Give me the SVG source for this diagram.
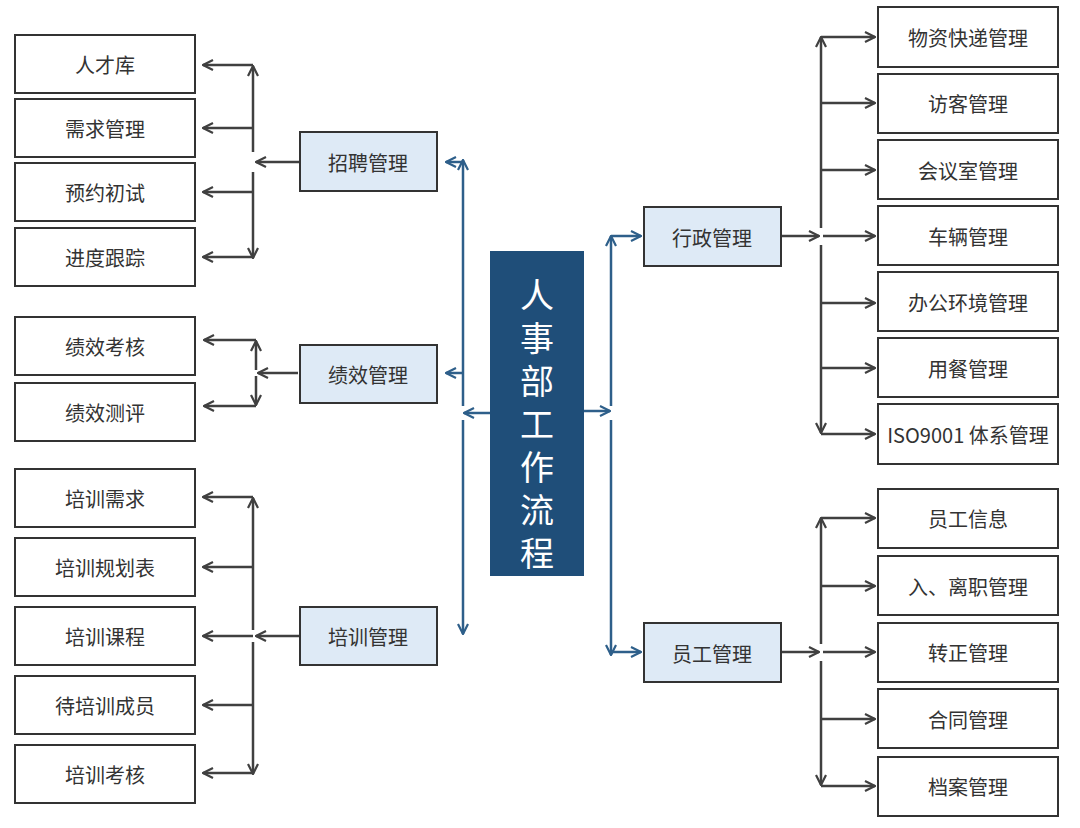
<svg xmlns="http://www.w3.org/2000/svg" width="1080" height="828" viewBox="0 0 1080 828">
<style>
.b{fill:#fff;stroke:#333;stroke-width:2}
.m{fill:#deeaf6;stroke:#333;stroke-width:2}
.t{font-family:"Noto Sans CJK SC","Noto Sans",sans-serif;font-size:20px;fill:#333;text-anchor:middle;dominant-baseline:central}
.g{fill:none;stroke:#404040;stroke-width:2.5}
.ga{fill:none;stroke:#404040;stroke-width:2.5;marker-end:url(#ag)}
.ba{fill:none;stroke:#2e5f8a;stroke-width:2.5;marker-end:url(#ab)}
.c{font-family:"Noto Sans CJK SC",sans-serif;font-size:34px;fill:#fff;text-anchor:middle;dominant-baseline:central}
</style>
<defs>
<marker id="ag" viewBox="0 0 12 12" refX="11" refY="6" markerWidth="12" markerHeight="12" markerUnits="userSpaceOnUse" orient="auto"><path d="M1,1 L11,6 L1,11" fill="none" stroke="#404040" stroke-width="2.2"/></marker>
<marker id="ab" viewBox="0 0 12 12" refX="11" refY="6" markerWidth="12" markerHeight="12" markerUnits="userSpaceOnUse" orient="auto"><path d="M1,1 L11,6 L1,11" fill="none" stroke="#2e5f8a" stroke-width="2.2"/></marker>
</defs>
<rect width="1080" height="828" fill="#fff"/>
<g id="connectors">
<!-- recruiting -->
<path class="ga" d="M253,152 V66"/><path class="ga" d="M253,172 V258"/>
<path class="ga" d="M253,65 H203"/><path class="ga" d="M253,128 H203"/><path class="ga" d="M253,192 H203"/><path class="ga" d="M253,257 H203"/>
<path class="ga" d="M300,162 H256"/>
<!-- performance -->
<path class="ga" d="M256,370 V341"/><path class="ga" d="M256,376 V405"/>
<path class="ga" d="M256,340 H204"/><path class="ga" d="M256,406 H204"/>
<path class="ga" d="M298,373 H258"/>
<!-- training -->
<path class="ga" d="M253,630 V498"/><path class="ga" d="M253,642 V774"/>
<path class="ga" d="M253,497 H203"/><path class="ga" d="M253,567 H203"/><path class="ga" d="M253,636 H203"/><path class="ga" d="M253,705 H203"/><path class="ga" d="M253,773 H203"/>
<path class="ga" d="M300,636 H256"/>
<!-- center left -->
<path class="ba" d="M463,406 V160"/><path class="ba" d="M463,420 V634"/>
<path class="ba" d="M490,413 H464"/>
<path class="ba" d="M463,162 H446"/><path class="ba" d="M463,373 H446"/>
<!-- center right -->
<path class="ba" d="M584,411 H610"/>
<path class="ba" d="M611,406 V236"/><path class="ba" d="M611,420 V655"/>
<path class="ba" d="M611,236 H641"/><path class="ba" d="M611,652 H641"/>
<!-- admin -->
<path class="ga" d="M781,236 H819"/>
<path class="ga" d="M821,228 V37"/><path class="ga" d="M821,245 V433"/>
<path class="ga" d="M821,37 H875"/><path class="ga" d="M821,103 H875"/><path class="ga" d="M821,170 H875"/><path class="ga" d="M823,236 H875"/><path class="ga" d="M821,303 H875"/><path class="ga" d="M821,368 H875"/><path class="ga" d="M821,434 H875"/>
<!-- staff -->
<path class="ga" d="M781,652 H819"/>
<path class="ga" d="M821,644 V518"/><path class="ga" d="M821,661 V785"/>
<path class="ga" d="M821,518 H875"/><path class="ga" d="M821,586 H875"/><path class="ga" d="M823,652 H875"/><path class="ga" d="M821,719 H875"/><path class="ga" d="M821,786 H875"/>
</g>
<g id="center"><rect x="490" y="251" width="94" height="325" fill="#1f4e79"/>
<text class="c" x="537" y="293">人</text><text class="c" x="537" y="336">事</text><text class="c" x="537" y="379">部</text><text class="c" x="537" y="422">工</text><text class="c" x="537" y="465">作</text><text class="c" x="537" y="508">流</text><text class="c" x="537" y="551">程</text></g>
<g id="zhaopin"><rect class="m" x="300" y="132" width="137" height="59"/><text class="t" x="368" y="162">招聘管理</text></g>
<g id="jixiao"><rect class="m" x="300" y="345" width="137" height="58"/><text class="t" x="368" y="374">绩效管理</text></g>
<g id="peixun"><rect class="m" x="300" y="607" width="137" height="58"/><text class="t" x="368" y="636">培训管理</text></g>
<g id="xingzheng"><rect class="m" x="644" y="207" width="137" height="59"/><text class="t" x="712" y="237">行政管理</text></g>
<g id="yuangong"><rect class="m" x="644" y="623" width="137" height="59"/><text class="t" x="712" y="653">员工管理</text></g>
<g id="l1"><rect class="b" x="15" y="35" width="180" height="58"/><text class="t" x="105" y="64">人才库</text></g>
<g id="l2"><rect class="b" x="15" y="99" width="180" height="58"/><text class="t" x="105" y="128">需求管理</text></g>
<g id="l3"><rect class="b" x="15" y="163" width="180" height="58"/><text class="t" x="105" y="192">预约初试</text></g>
<g id="l4"><rect class="b" x="15" y="228" width="180" height="58"/><text class="t" x="105" y="257">进度跟踪</text></g>
<g id="l5"><rect class="b" x="15" y="317" width="180" height="58"/><text class="t" x="105" y="346">绩效考核</text></g>
<g id="l6"><rect class="b" x="15" y="383" width="180" height="58"/><text class="t" x="105" y="412">绩效测评</text></g>
<g id="l7"><rect class="b" x="15" y="469" width="180" height="58"/><text class="t" x="105" y="498">培训需求</text></g>
<g id="l8"><rect class="b" x="15" y="538" width="180" height="58"/><text class="t" x="105" y="567">培训规划表</text></g>
<g id="l9"><rect class="b" x="15" y="607" width="180" height="58"/><text class="t" x="105" y="636">培训课程</text></g>
<g id="l10"><rect class="b" x="15" y="676" width="180" height="58"/><text class="t" x="105" y="705">待培训成员</text></g>
<g id="l11"><rect class="b" x="15" y="745" width="180" height="58"/><text class="t" x="105" y="774">培训考核</text></g>
<g id="r1"><rect class="b" x="878" y="7" width="180" height="60"/><text class="t" x="968" y="37">物资快递管理</text></g>
<g id="r2"><rect class="b" x="878" y="74" width="180" height="59"/><text class="t" x="968" y="103">访客管理</text></g>
<g id="r3"><rect class="b" x="878" y="140" width="180" height="59"/><text class="t" x="968" y="170">会议室管理</text></g>
<g id="r4"><rect class="b" x="878" y="206" width="180" height="59"/><text class="t" x="968" y="236">车辆管理</text></g>
<g id="r5"><rect class="b" x="878" y="272" width="180" height="59"/><text class="t" x="968" y="302">办公环境管理</text></g>
<g id="r6"><rect class="b" x="878" y="338" width="180" height="59"/><text class="t" x="968" y="368">用餐管理</text></g>
<g id="r7"><rect class="b" x="878" y="404" width="180" height="60"/><text class="t" x="968" y="434">ISO9001 体系管理</text></g>
<g id="r8"><rect class="b" x="878" y="489" width="180" height="59"/><text class="t" x="968" y="518">员工信息</text></g>
<g id="r9"><rect class="b" x="878" y="556" width="180" height="59"/><text class="t" x="968" y="586">入、离职管理</text></g>
<g id="r10"><rect class="b" x="878" y="623" width="180" height="59"/><text class="t" x="968" y="652">转正管理</text></g>
<g id="r11"><rect class="b" x="878" y="689" width="180" height="59"/><text class="t" x="968" y="719">合同管理</text></g>
<g id="r12"><rect class="b" x="878" y="757" width="180" height="59"/><text class="t" x="968" y="786">档案管理</text></g>
</svg>
